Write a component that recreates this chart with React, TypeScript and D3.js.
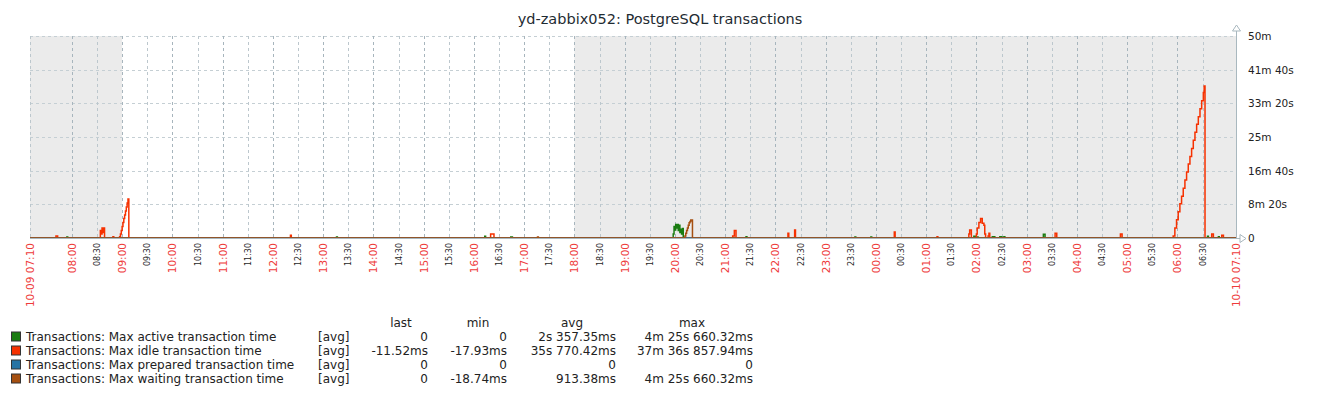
import React, { useRef, useEffect } from 'react';
import * as d3 from 'd3';

const chartTitle = 'yd-zabbix052: PostgreSQL transactions';

const startTime = new Date(2023, 9, 9, 7, 10);
const endTime = new Date(2023, 9, 10, 7, 10);
const workStart = new Date(2023, 9, 9, 9, 0);
const workEnd = new Date(2023, 9, 9, 18, 0);
const firstGridTime = new Date(2023, 9, 9, 8, 0);
const lastGridStop = new Date(2023, 9, 10, 7, 0);
const startLabel = '10-09 07:10';
const endLabel = '10-10 07:10';

// y values are seconds
const yMax = 3000;
const yTicks = [0, 500, 1000, 1500, 2000, 2500, 3000];
const yTickLabels = ['0', '8m 20s', '16m 40s', '25m', '33m 20s', '41m 40s', '50m'];

// [minutes after 10-09 07:10, seconds] -- zero everywhere else
const activeTime: [number, number][] = [
  [44, 15], [45, 0],
  [366, 15], [367, 0],
  [543, 25], [544, 0],
  [574, 15], [576, 0],
  [768, 60], [769, 170], [770, 120], [771, 200], [772, 150], [773, 200], [774, 110],
  [775, 190], [776, 80], [777, 130], [778, 60], [779, 140], [780, 0],
  [855, 20], [856, 0],
  [985, 15], [986, 0],
  [1004, 15], [1005, 0],
  [1127, 25], [1129, 15], [1132, 0],
  [1149, 20], [1152, 0],
  [1158, 20], [1160, 10], [1163, 20], [1164, 0],
  [1210, 55], [1212, 0],
  [1406, 25], [1407, 0],
  [1419, 20], [1420, 0],
];

const idleTime: [number, number][] = [
  [31, 30], [33, 0],
  [84, 110], [85, 60], [86, 150], [87, 80], [88, 150], [89, 0],
  [99, 20], [100, 0],
  [107, 20], [108, 60], [109, 110], [110, 170], [111, 230], [112, 290], [113, 340],
  [114, 400], [115, 460], [116, 520], [117, 580], [118, 0],
  [311, 40], [312, 0],
  [550, 60], [554, 0],
  [839, 30], [841, 110], [843, 0],
  [905, 70], [906, 0],
  [913, 120], [914, 0],
  [1032, 90], [1033, 0],
  [1083, 20], [1084, 0],
  [1121, 60], [1122, 120], [1124, 0],
  [1130, 60], [1131, 150], [1133, 230], [1135, 290], [1137, 220], [1139, 190], [1140, 60], [1141, 0],
  [1144, 30], [1145, 70], [1146, 0],
  [1224, 70], [1226, 0],
  [1302, 60], [1304, 0],
  [1365, 30], [1367, 150], [1369, 270], [1371, 390], [1373, 510], [1375, 620], [1377, 740],
  [1379, 860], [1381, 980], [1383, 1100], [1385, 1210], [1387, 1330], [1389, 1450],
  [1391, 1570], [1393, 1690], [1395, 1800], [1397, 1920], [1399, 2040], [1401, 2160],
  [1402, 2256.86], [1403, 0],
  [1411, 60], [1413, 0],
  [1423, 40], [1425, 0],
];

const preparedTime: [number, number][] = [];

const waitingTime: [number, number][] = [
  [606, 15], [607, 0],
  [782, 30], [783, 70], [784, 110], [785, 150], [786, 190], [787, 225], [788, 245],
  [789, 265.66], [791, 0],
];

const seriesNames = [
  'Transactions: Max active transaction time',
  'Transactions: Max idle transaction time',
  'Transactions: Max prepared transaction time',
  'Transactions: Max waiting transaction time',
];
const seriesColors = ['#1a7c11', '#f63100', '#2774a4', '#a54f10'];
const seriesData = [activeTime, idleTime, preparedTime, waitingTime];

const legendHeaders = ['last', 'min', 'avg', 'max'];
const legendLast = ['0', '-11.52ms', '0', '0'];
const legendMin = ['0', '-17.93ms', '0', '-18.74ms'];
const legendAvg = ['2s 357.35ms', '35s 770.42ms', '0', '913.38ms'];
const legendMax = ['4m 25s 660.32ms', '37m 36s 857.94ms', '0', '4m 25s 660.32ms'];

const W = 1322;
const H = 397;
const margin = { top: 36, left: 30, right: 86, bottom: 159 };
const font = '"DejaVu Sans", sans-serif';

export default function App() {
  const svgRef = useRef<SVGSVGElement>(null);

  useEffect(() => {
    document.body.style.margin = '0';
    const svg = d3.select(svgRef.current);
    svg.selectAll('*').remove();

    const x0 = margin.left;
    const x1 = W - margin.right;
    const y0 = margin.top;
    const y1 = H - margin.bottom;

    const xScale = d3.scaleTime().domain([startTime, endTime]).range([x0, x1]);
    const yScale = d3.scaleLinear().domain([0, yMax]).range([y1, y0]);

    svg
      .append('text')
      .attr('x', 660)
      .attr('y', 24)
      .attr('text-anchor', 'middle')
      .attr('font-family', font)
      .attr('font-size', 14.5)
      .attr('fill', '#1f2c33')
      .text(chartTitle);

    // background: non-working hours gray, working hours white
    svg
      .append('rect')
      .attr('x', x0)
      .attr('y', y0)
      .attr('width', x1 - x0)
      .attr('height', y1 - y0)
      .attr('fill', '#ebebeb');
    svg
      .append('rect')
      .attr('x', xScale(workStart))
      .attr('y', y0)
      .attr('width', xScale(workEnd) - xScale(workStart))
      .attr('height', y1 - y0)
      .attr('fill', '#ffffff');

    // horizontal grid
    svg
      .append('g')
      .selectAll('line')
      .data(yTicks.slice(1))
      .join('line')
      .attr('x1', x0)
      .attr('x2', x1)
      .attr('y1', d => Math.round(yScale(d)) + 0.5)
      .attr('y2', d => Math.round(yScale(d)) + 0.5)
      .attr('stroke', '#c5cfd4')
      .attr('stroke-dasharray', '3,3');

    // vertical grid every 30 min
    const gridTimes = d3.timeMinute.every(30)!.range(firstGridTime, lastGridStop);
    const isHour = (d: Date) => d.getMinutes() === 0;
    svg
      .append('g')
      .selectAll('line')
      .data([startTime, ...gridTimes])
      .join('line')
      .attr('x1', d => Math.round(xScale(d)) + 0.5)
      .attr('x2', d => Math.round(xScale(d)) + 0.5)
      .attr('y1', y0)
      .attr('y2', y1)
      .attr('stroke', d => (isHour(d) ? '#a7b5bd' : '#bcc7cd'))
      .attr('stroke-dasharray', '3,3');

    // series
    const lineGen = d3
      .line<[number, number]>()
      .x(d => xScale(d3.timeMinute.offset(startTime, d[0])))
      .y(d => yScale(d[1]))
      .curve(d3.curveStepAfter);

    seriesData.forEach((s, i) => {
      const pts: [number, number][] = [[0, 0], ...s, [1440, 0]];
      svg
        .append('path')
        .attr('d', lineGen(pts))
        .attr('fill', 'none')
        .attr('stroke', seriesColors[i])
        .attr('stroke-width', 1.5);
    });

    // axes
    const axisColor = '#a9b8bf';
    svg
      .append('line')
      .attr('x1', x1 + 0.5)
      .attr('x2', x1 + 0.5)
      .attr('y1', y1)
      .attr('y2', y0 - 8)
      .attr('stroke', axisColor);
    svg
      .append('path')
      .attr('d', `M${x1 + 0.5},${y0 - 11} L${x1 - 3.5},${y0 - 5} L${x1 + 4.5},${y0 - 5} Z`)
      .attr('fill', '#fff')
      .attr('stroke', axisColor);
    svg
      .append('line')
      .attr('x1', x0)
      .attr('x2', x1 + 4)
      .attr('y1', y1 + 0.5)
      .attr('y2', y1 + 0.5)
      .attr('stroke', axisColor);
    svg
      .append('path')
      .attr('d', `M${x1 + 10},${y1 + 0.5} L${x1 + 4},${y1 - 3.5} L${x1 + 4},${y1 + 4.5} Z`)
      .attr('fill', '#fff')
      .attr('stroke', axisColor);

    // y labels
    svg
      .append('g')
      .selectAll('text')
      .data(yTicks)
      .join('text')
      .attr('x', x1 + 12)
      .attr('y', d => yScale(d) + 4)
      .attr('font-family', font)
      .attr('font-size', 10.5)
      .attr('fill', '#222')
      .text((d, i) => yTickLabels[i]);

    // x labels (rotated)
    const xLabel = (t: Date, label: string, size: number, color: string) => {
      const xx = Math.round(xScale(t)) + 0.5 + size * 0.36;
      svg
        .append('text')
        .attr('transform', `translate(${xx},${y1 + 5}) rotate(-90)`)
        .attr('text-anchor', 'end')
        .attr('font-family', font)
        .attr('font-size', size)
        .attr('fill', color)
        .text(label);
    };
    const fmt = d3.timeFormat('%H:%M');
    xLabel(startTime, startLabel, 10.5, '#ee3b3b');
    gridTimes.forEach(t => {
      if (isHour(t)) xLabel(t, fmt(t), 10.5, '#ee3b3b');
      else xLabel(t, fmt(t), 8, '#1f1f1f');
    });
    xLabel(endTime, endLabel, 10.5, '#ee3b3b');

    // legend
    const lg = svg.append('g').attr('font-family', font).attr('font-size', 12).attr('fill', '#222');
    const headerX = [401, 478, 572, 692];
    legendHeaders.forEach((h, i) => {
      lg.append('text').attr('x', headerX[i]).attr('y', 327).attr('text-anchor', 'middle').text(h);
    });
    const rightX = [428, 507, 616, 753];
    const cols = [legendLast, legendMin, legendAvg, legendMax];
    seriesNames.forEach((name, i) => {
      const cy = 336.5 + i * 14;
      lg.append('rect')
        .attr('x', 11.5)
        .attr('y', cy - 4.5)
        .attr('width', 9)
        .attr('height', 9)
        .attr('fill', seriesColors[i])
        .attr('stroke', '#333');
      lg.append('text').attr('x', 26).attr('y', cy + 4).text(name);
      lg.append('text').attr('x', 318).attr('y', cy + 4).text('[avg]');
      cols.forEach((c, j) => {
        lg.append('text').attr('x', rightX[j]).attr('y', cy + 4).attr('text-anchor', 'end').text(c[i]);
      });
    });
  }, []);

  return <svg ref={svgRef} width={W} height={H} style={{ display: 'block', background: '#fff' }} />;
}
